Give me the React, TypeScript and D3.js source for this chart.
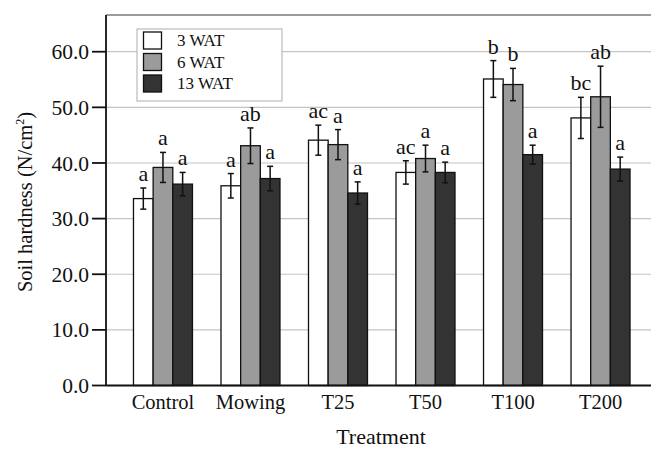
import React, { useEffect, useRef } from "react";
import * as d3 from "d3";

const treatments = ["Control", "Mowing", "T25", "T50", "T100", "T200"];
const seriesNames = ["3 WAT", "6 WAT", "13 WAT"];
const seriesColors = ["#ffffff", "#9b9b9b", "#333333"];

// means per treatment, one array per series
const wat3 = [33.6, 35.9, 44.1, 38.3, 55.1, 48.1];
const wat6 = [39.2, 43.1, 43.3, 40.8, 54.1, 51.9];
const wat13 = [36.2, 37.2, 34.6, 38.3, 41.5, 38.9];

// error bar half-widths
const err3 = [1.9, 2.2, 2.7, 2.1, 3.3, 3.7];
const err6 = [2.7, 3.2, 2.7, 2.4, 2.9, 5.5];
const err13 = [2.1, 2.2, 2.0, 1.85, 1.7, 2.15];

// significance letters
const letters3 = ["a", "a", "ac", "ac", "b", "bc"];
const letters6 = ["a", "ab", "a", "a", "b", "ab"];
const letters13 = ["a", "a", "a", "a", "a", "a"];

const yTicks = [0, 10, 20, 30, 40, 50, 60];

const App = () => {
  const svgRef = useRef(null);

  useEffect(() => {
    const width = 651;
    const left = 106;
    const top = 15;
    const bottom = 385.5;
    const font = "'Liberation Serif', 'Times New Roman', serif";

    const svg = d3.select(svgRef.current);
    svg.selectAll("*").remove();

    const y = d3.scaleLinear().domain([0, 66.6]).range([bottom, top]);

    const x0 = d3.scaleBand()
      .domain(treatments)
      .range([left, 657.5])
      .paddingInner(0.326)
      .paddingOuter(0.314);

    const x1 = d3.scaleBand()
      .domain(seriesNames)
      .range([0, x0.bandwidth()]);

    // gridlines
    svg.append("g")
      .selectAll("line")
      .data(yTicks.slice(1))
      .join("line")
      .attr("x1", left)
      .attr("x2", width)
      .attr("y1", d => y(d))
      .attr("y2", d => y(d))
      .attr("stroke", "#c4c4c4")
      .attr("stroke-width", 1.2);

    // top border
    svg.append("line")
      .attr("x1", left)
      .attr("x2", width)
      .attr("y1", top)
      .attr("y2", top)
      .attr("stroke", "#7a7a7a")
      .attr("stroke-width", 1.5);

    const series = [
      { name: seriesNames[0], vals: wat3, errs: err3, lets: letters3 },
      { name: seriesNames[1], vals: wat6, errs: err6, lets: letters6 },
      { name: seriesNames[2], vals: wat13, errs: err13, lets: letters13 },
    ];

    const groups = svg.append("g");
    series.forEach((s, si) => {
      treatments.forEach((t, i) => {
        const bx = x0(t) + x1(s.name);
        const bw = x1.bandwidth();
        const cx = bx + bw / 2;
        groups.append("rect")
          .attr("x", bx)
          .attr("y", y(s.vals[i]))
          .attr("width", bw)
          .attr("height", bottom - y(s.vals[i]))
          .attr("fill", seriesColors[si])
          .attr("stroke", "#111")
          .attr("stroke-width", 1.3);

        const hi = y(s.vals[i] + s.errs[i]);
        const lo = y(s.vals[i] - s.errs[i]);
        groups.append("line")
          .attr("x1", cx).attr("x2", cx)
          .attr("y1", hi).attr("y2", lo)
          .attr("stroke", "#111").attr("stroke-width", 1.5);
        [hi, lo].forEach(yy => {
          groups.append("line")
            .attr("x1", cx - 3).attr("x2", cx + 3)
            .attr("y1", yy).attr("y2", yy)
            .attr("stroke", "#111").attr("stroke-width", 1.5);
        });

        groups.append("text")
          .attr("x", cx)
          .attr("y", hi - 7)
          .attr("text-anchor", "middle")
          .attr("font-family", font)
          .attr("font-size", 22)
          .attr("fill", "#111")
          .text(s.lets[i]);
      });
    });

    // axes
    svg.append("line")
      .attr("x1", left).attr("x2", left)
      .attr("y1", top).attr("y2", bottom)
      .attr("stroke", "#111").attr("stroke-width", 1.8);
    svg.append("line")
      .attr("x1", left).attr("x2", width)
      .attr("y1", bottom).attr("y2", bottom)
      .attr("stroke", "#111").attr("stroke-width", 1.8);

    const yt = svg.append("g");
    yTicks.forEach(v => {
      yt.append("line")
        .attr("x1", left - 14).attr("x2", left)
        .attr("y1", y(v)).attr("y2", y(v))
        .attr("stroke", "#111").attr("stroke-width", 1.8);
      yt.append("text")
        .attr("x", left - 17)
        .attr("y", y(v))
        .attr("dy", "0.35em")
        .attr("text-anchor", "end")
        .attr("font-family", font)
        .attr("font-size", 21.5)
        .attr("fill", "#111")
        .text(d3.format(".1f")(v));
    });

    // x labels
    treatments.forEach(t => {
      svg.append("text")
        .attr("x", x0(t) + x0.bandwidth() / 2)
        .attr("y", 409)
        .attr("text-anchor", "middle")
        .attr("font-family", font)
        .attr("font-size", 20.5)
        .attr("fill", "#111")
        .text(t);
    });

    svg.append("text")
      .attr("x", 381)
      .attr("y", 444)
      .attr("text-anchor", "middle")
      .attr("font-family", font)
      .attr("font-size", 22)
      .attr("fill", "#111")
      .text("Treatment");

    const yTitle = svg.append("text")
      .attr("transform", "translate(32,202) rotate(-90)")
      .attr("text-anchor", "middle")
      .attr("font-family", font)
      .attr("font-size", 20.5)
      .attr("fill", "#111");
    yTitle.append("tspan").text("Soil hardness (N/cm");
    yTitle.append("tspan").attr("font-size", 12).attr("dy", -8).text("2");
    yTitle.append("tspan").attr("dy", 8).text(")");

    // legend
    const lg = svg.append("g");
    lg.append("rect")
      .attr("x", 137).attr("y", 29)
      .attr("width", 145).attr("height", 72)
      .attr("fill", "#fff")
      .attr("stroke", "#bbb").attr("stroke-width", 1.2);
    seriesNames.forEach((n, i) => {
      lg.append("rect")
        .attr("x", 143.5).attr("y", 32 + i * 21.5)
        .attr("width", 18).attr("height", 17)
        .attr("fill", seriesColors[i])
        .attr("stroke", "#111").attr("stroke-width", 1.3);
      lg.append("text")
        .attr("x", 177).attr("y", 46 + i * 21.5)
        .attr("font-family", font)
        .attr("font-size", 17)
        .attr("fill", "#111")
        .text(n);
    });
  }, []);

  return (
    <svg
      ref={svgRef}
      width={651}
      height={450}
      style={{ position: "absolute", left: 0, top: 0, background: "#fff" }}
    />
  );
};

export default App;
